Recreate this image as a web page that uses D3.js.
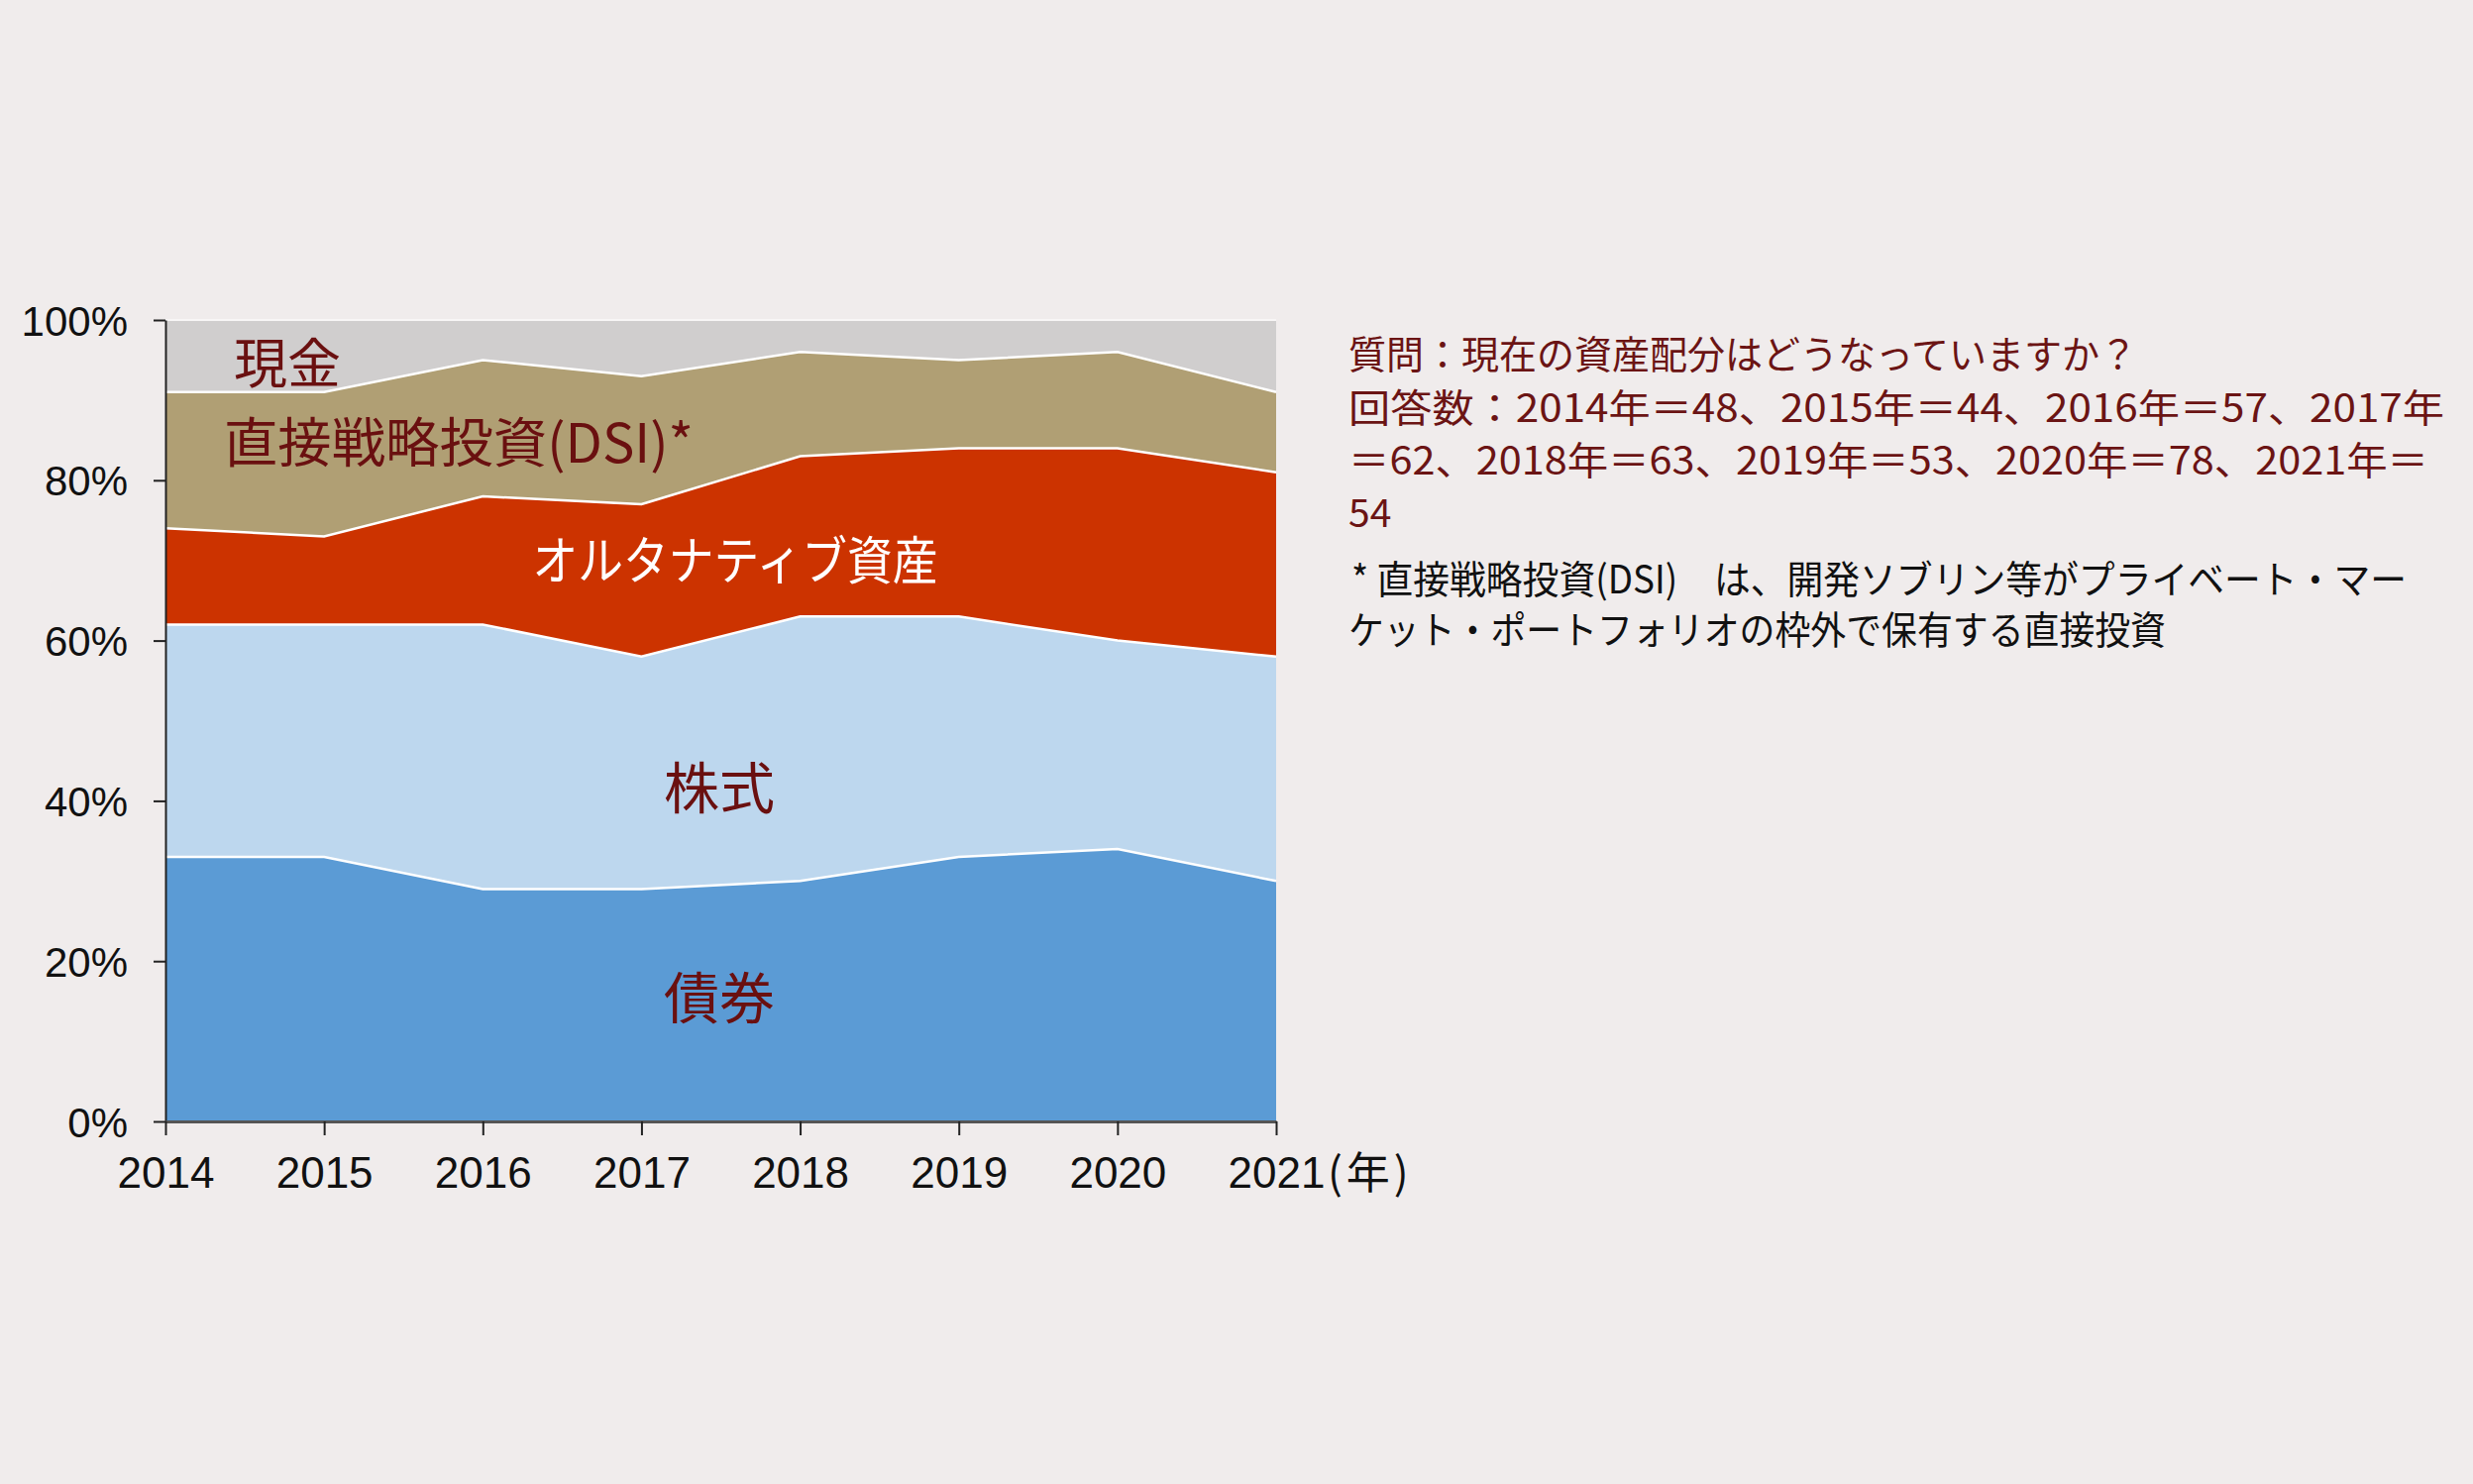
<!DOCTYPE html>
<html><head><meta charset="utf-8">
<script src="https://cdn.jsdelivr.net/npm/d3@7"></script>
<style>
html,body{margin:0;padding:0;background:#f0ecec;}
svg{display:block;}
</style></head><body>
<script>
const years = [2014,2015,2016,2017,2018,2019,2020,2021];
const bonds = [33,33,29,29,30,33,34,30];
const equities = [29,29,33,29,33,30,26,28];
const alternatives = [12,11,16,19,20,21,24,23];
const dsi = [17,18,17,16,13,11,12,10];
const cash = [9,9,5,7,4,5,4,9];
const seriesNames = ["債券","株式","オルタナティブ資産","直接戦略投資(DSI)*","現金"];
const yTicks = [0,20,40,60,80,100];
const noteLines = [
  "質問：現在の資産配分はどうなっていますか？",
  "回答数：2014年＝48、2015年＝44、2016年＝57、2017年",
  "＝62、2018年＝63、2019年＝53、2020年＝78、2021年＝",
  "54"
];
const footLines = [
  "* 直接戦略投資(DSI)　は、開発ソブリン等がプライベート・マー",
  "ケット・ポートフォリオの枠外で保有する直接投資"
];

(function(){
const W = 2496, H = 1498;
const svg = d3.select("body").append("svg").attr("width", W).attr("height", H);
svg.append("rect").attr("width", W).attr("height", H).attr("fill", "#f0ecec");

const pL = 167, pR = 1288, pT = 323, pB = 1132;
const x = d3.scaleLinear().domain([2014, 2021]).range([pL, pR]);
const y = d3.scaleLinear().domain([0, 100]).range([pB, pT]);

const keys = ["bonds","equities","alternatives","dsi","cash"];
const colors = {bonds:"#5b9bd5", equities:"#bdd7ee", alternatives:"#cc3300", dsi:"#b09f74", cash:"#d0cece"};
const rows = years.map((yr,i)=>({year:yr, bonds:bonds[i], equities:equities[i], alternatives:alternatives[i], dsi:dsi[i], cash:cash[i]}));
const stacked = d3.stack().keys(keys)(rows);

const area = d3.area().x(d=>x(d.data.year)).y0(d=>y(d[0])).y1(d=>y(d[1]));
const line = d3.line().x(d=>x(d.data.year)).y(d=>y(d[1]));

svg.append("g").selectAll("path").data(stacked).join("path")
  .attr("d", area).attr("fill", d=>colors[d.key]);

svg.append("g").selectAll("path").data(stacked.slice(0,4)).join("path")
  .attr("d", line).attr("fill","none").attr("stroke","#ffffff").attr("stroke-width",2.5);

svg.append("line").attr("x1", pL).attr("x2", pR).attr("y1", y(100)).attr("y2", y(100))
  .attr("stroke","#f8f6f6").attr("stroke-width",2);

const yAxis = d3.axisLeft(y).tickValues(yTicks).tickFormat(d=>d+"%").tickSize(12).tickSizeOuter(0);
const gy = svg.append("g").attr("transform",`translate(${pL},0)`).call(yAxis);
gy.select(".domain").attr("stroke","#222").attr("stroke-width",2);
gy.selectAll(".tick line").attr("stroke","#222").attr("stroke-width",2);
gy.selectAll(".tick text").attr("x",-38).attr("dy","0.36em")
  .attr("font-family","'Liberation Sans', Arial, sans-serif").attr("font-size",42).attr("fill","#111");

const xAxis = d3.axisBottom(x).tickValues(years).tickFormat(d3.format("d")).tickSize(14).tickSizeOuter(0);
const gx = svg.append("g").attr("transform",`translate(0,${pB})`).call(xAxis);
gx.select(".domain").attr("stroke","#555").attr("stroke-width",3);
gx.selectAll(".tick line").attr("stroke","#222").attr("stroke-width",2);
gx.selectAll(".tick text").attr("y",36).attr("dy","0.71em")
  .attr("font-family","'Liberation Sans', Arial, sans-serif").attr("font-size",44).attr("fill","#111");

svg.append("text").attr("x", 1340).attr("y", 1200)
  .attr("font-family","'Noto Sans CJK JP', sans-serif").attr("font-size",44).attr("fill","#111")
  .attr("letter-spacing",4)
  .text("(年)");

const lab = (txt, cx, cy, fill, size, anchor, len) => {
  const t = svg.append("text").attr("x",cx).attr("y",cy)
  .attr("text-anchor",anchor||"middle").attr("dominant-baseline","central")
  .attr("font-family","'Noto Sans CJK JP', sans-serif").attr("font-size",size).attr("fill",fill).text(txt);
  if(len) t.attr("textLength",len).attr("lengthAdjust","spacingAndGlyphs");
};
lab(seriesNames[4], 290, 363, "#6a1010", 54);
lab(seriesNames[3], 226, 443, "#6a1010", 54, "start", 474);
lab(seriesNames[2], 742, 562, "#ffffff", 52, "middle", 409);
lab(seriesNames[1], 726, 791, "#6a1010", 56);
lab(seriesNames[0], 726, 1003, "#6a1010", 56);

const noteWidths = [796, 1106, 1090, null];
const noteY = [355, 409, 462, 515];
noteLines.forEach((t,i)=>{
  const tx = svg.append("text").attr("x",1361).attr("y",noteY[i]).attr("dominant-baseline","central")
    .attr("font-family","'Noto Sans CJK JP', sans-serif").attr("font-size",39).attr("fill","#6b1414").text(t);
  if(noteWidths[i]) tx.attr("textLength",noteWidths[i]).attr("lengthAdjust","spacingAndGlyphs");
});
const footWidths = [1065, 825];
const footY = [582, 633];
footLines.forEach((t,i)=>{
  svg.append("text").attr("x",i===0?1364:1361).attr("y",footY[i]).attr("dominant-baseline","central")
    .attr("font-family","'Noto Sans CJK JP', sans-serif").attr("font-size",39).attr("fill","#111")
    .attr("textLength",footWidths[i]).attr("lengthAdjust","spacingAndGlyphs").text(t);
});
})();
</script>
</body></html>
